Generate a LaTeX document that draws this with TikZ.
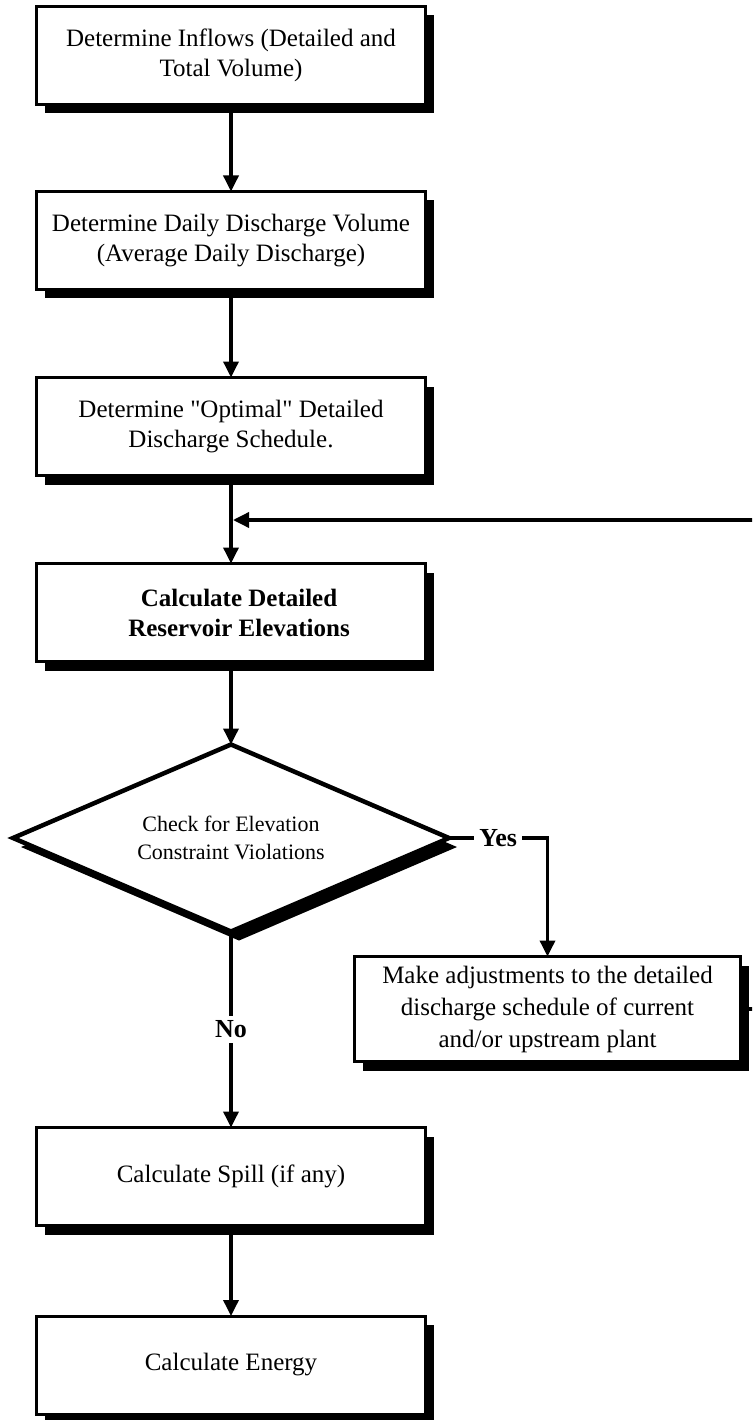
\documentclass[tikz,border=0pt]{standalone}
\usepackage{fontspec}
\setmainfont{Liberation Serif}[Ligatures=TeXOff]
\usetikzlibrary{arrows.meta,shapes.geometric,shadows}
\begin{document}
\begin{tikzpicture}[x=1pt,y=-1pt,
  shadowed/.style={drop shadow={shadow xshift=8pt, shadow yshift=-9pt, opacity=1, fill=black}},
  procbox/.style={draw, line width=3pt, fill=white, minimum width=389pt, minimum height=98pt,
    inner sep=0pt, outer sep=0pt, align=center, font=\fontsize{25}{30}\selectfont, shadowed},
  decision/.style={diamond, draw, line width=4.5pt, fill=white, minimum width=436pt, minimum height=187pt,
    shape aspect=2.33, inner sep=0pt, outer sep=0pt, align=center, font=\fontsize{22}{28}\selectfont, shadowed},
  flow/.style={line width=3.5pt, -{Triangle[width=15pt,length=16pt]}},
  lbl/.style={fill=white, inner sep=5pt, font=\fontsize{26}{30}\selectfont\bfseries}
]
\useasboundingbox (0,0) rectangle (752,1420);
\clip (0,0) rectangle (752,1420);

\node[procbox] (b1) at (231,55.5) {Determine Inflows (Detailed and\\Total Volume)};
\node[procbox] (b2) at (231,240.5) {Determine Daily Discharge Volume\\(Average Daily Discharge)};
\node[procbox] (b3) at (231,426.5) {Determine "Optimal" Detailed\\Discharge Schedule.};
\node[procbox, font=\fontsize{25}{30}\selectfont\bfseries] (b4) at (231,612.5) {\hspace*{16pt}Calculate Detailed\\\hspace*{16pt}Reservoir Elevations};
\node[decision] (dia) at (231,838) {Check for Elevation\\Constraint Violations};
\node[procbox, minimum width=386pt, minimum height=105pt, font=\fontsize{25}{32}\selectfont] (adj) at (547.5,1009) {Make adjustments to the detailed\\discharge schedule of current\\and/or upstream plant};
\node[procbox] (spill) at (231,1176.5) {Calculate Spill (if any)};
\node[procbox] (energy) at (231,1365) {Calculate Energy};

\coordinate (j) at (233,520);
\coordinate (yc) at (547.5,838);
\coordinate (ret) at (800,1009);

\draw[flow] (b1) -- (b2);
\draw[flow] (b2) -- (b3);
\draw[flow] (b3) -- (b4);
\draw[flow] (b4) -- (dia);
\draw[flow] (dia.east) -- node[lbl] {Yes} (yc) -- (adj.north);
\draw[flow] (dia.south) -- node[lbl] {No} (spill.north);
\draw[flow] (spill) -- (energy);
\draw[flow] (adj.east) -- (ret) |- (j);
\end{tikzpicture}
\end{document}
